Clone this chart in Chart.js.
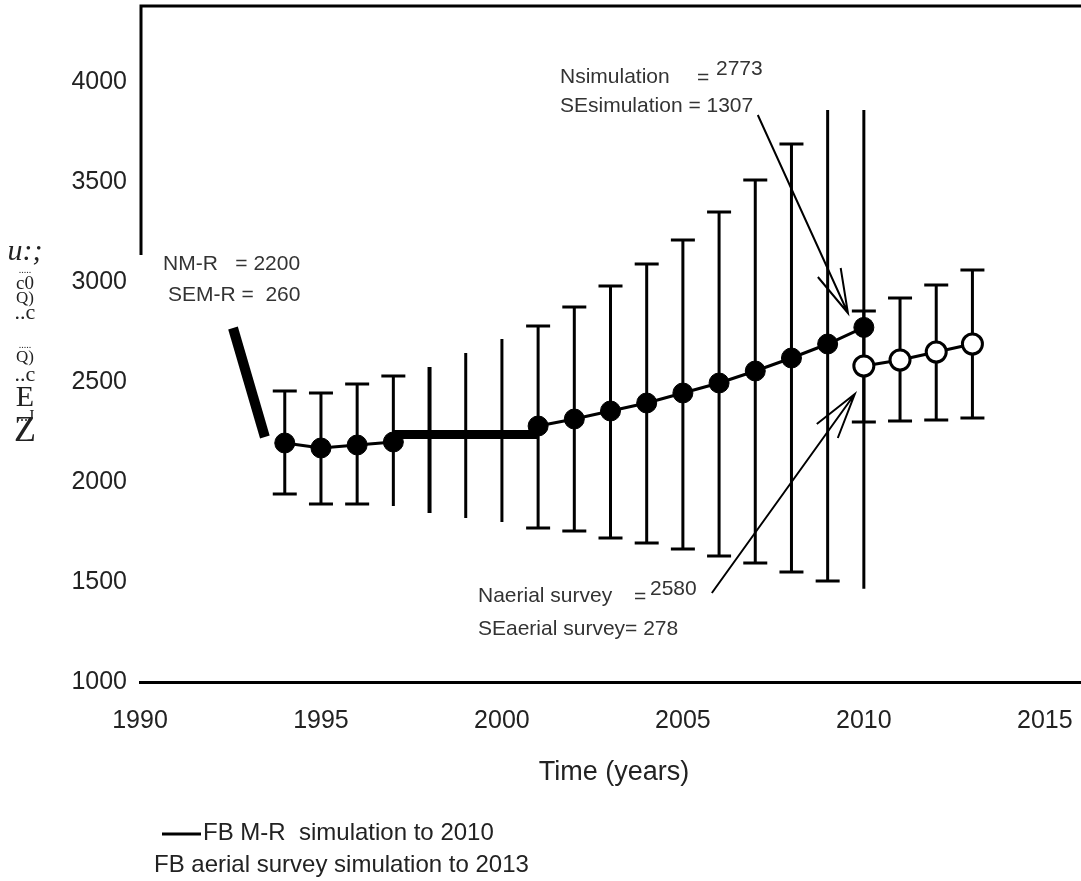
<!DOCTYPE html>
<html>
<head>
<meta charset="utf-8">
<script src="https://cdn.jsdelivr.net/npm/chart.js@4.4.1/dist/chart.umd.min.js"></script>
<style>
  html, body { margin: 0; padding: 0; background: #fff; }
</style>
</head>
<body>
<canvas id="chart" width="1081" height="881"></canvas>
<script>
// M-R simulation (filled circles), 1994-2010
const years = [1994, 1995, 1996, 1997, 1998, 1999, 2000, 2001, 2002, 2003, 2004, 2005, 2006, 2007, 2008, 2009, 2010];
const mrValues = [2195, 2170, 2185, 2200, null, null, null, 2280, 2315, 2355, 2395, 2445, 2495, 2555, 2620, 2690, 2773];
const mrLow = [1940, 1890, 1890, 1880, 1845, 1820, 1800, 1770, 1755, 1720, 1695, 1665, 1630, 1595, 1550, 1505, 1466];
const mrHigh = [2455, 2445, 2490, 2530, 2575, 2645, 2715, 2780, 2875, 2980, 3090, 3210, 3350, 3510, 3690, 3860, 3860];
const mrCapTop = [1, 1, 1, 1, 0, 0, 0, 1, 1, 1, 1, 1, 1, 1, 1, 0, 0];
const mrCapBottom = [1, 1, 1, 0, 0, 0, 0, 1, 1, 1, 1, 1, 1, 1, 1, 1, 0];

// aerial survey simulation (open circles), 2010-2013
const aerialYears = [2010, 2011, 2012, 2013];
const aerialValues = [2580, 2610, 2650, 2690];
const aerialLow = [2300, 2305, 2310, 2320];
const aerialHigh = [2855, 2920, 2985, 3060];

// heavy strokes of the figure
const thickYears = [1997, 2001];
const thickValues = [2238, 2238];
const slashYears = [1992.57, 1993.45];
const slashValues = [2770, 2225];

const xTicks = [1990, 1995, 2000, 2005, 2010, 2015];
const yTicks = [1000, 1500, 2000, 2500, 3000, 3500, 4000];

// arrows: [start, tip, barb1, barb2] as [year, value]
const arrowSim = [[2007.07, 3835], [2009.56, 2845], [2008.73, 3025], [2009.36, 3070]];
const arrowAerial = [[2005.80, 1445], [2009.75, 2440], [2008.70, 2290], [2009.28, 2220]];

const pts = (xs, ys) => xs.map((x, i) => ({ x, y: ys[i] }));

function bar(c, px, lo, hi, capTop, capBottom, w) {
  c.lineWidth = w;
  c.beginPath();
  c.moveTo(px, lo); c.lineTo(px, hi);
  if (capTop) { c.moveTo(px - 12, hi); c.lineTo(px + 12, hi); }
  if (capBottom) { c.moveTo(px - 12, lo); c.lineTo(px + 12, lo); }
  c.stroke();
}

const overlay = {
  id: 'overlay',
  beforeDatasetsDraw(chart) {
    const { ctx: c, scales: { x, y }, chartArea: a } = chart;
    c.save();
    c.strokeStyle = '#000';
    c.lineWidth = 3;
    c.beginPath();
    c.moveTo(a.left + 1, a.top + 249);
    c.lineTo(a.left + 1, a.top);
    c.lineTo(a.right, a.top);
    c.stroke();
    years.forEach((yr, i) => {
      bar(c, x.getPixelForValue(yr), y.getPixelForValue(mrLow[i]), y.getPixelForValue(mrHigh[i]),
        mrCapTop[i], mrCapBottom[i], yr === 1998 ? 4 : 3);
    });
    aerialYears.forEach((yr, i) => {
      bar(c, x.getPixelForValue(yr), y.getPixelForValue(aerialLow[i]), y.getPixelForValue(aerialHigh[i]), 1, 1, 3);
    });
    c.restore();
  },
  afterDraw(chart) {
    const { ctx: c, scales: { x, y } } = chart;
    const P = (p) => [x.getPixelForValue(p[0]), y.getPixelForValue(p[1])];
    c.save();
    c.strokeStyle = '#000';
    c.lineWidth = 2;
    [arrowSim, arrowAerial].forEach(ar => {
      const [s, t, b1, b2] = ar.map(P);
      c.beginPath();
      c.moveTo(s[0], s[1]); c.lineTo(t[0], t[1]);
      c.moveTo(b1[0], b1[1]); c.lineTo(t[0], t[1]); c.lineTo(b2[0], b2[1]);
      c.stroke();
    });

    c.fillStyle = '#333';
    c.textBaseline = 'middle';
    c.textAlign = 'left';
    c.font = '21px "Liberation Sans", Arial, sans-serif';
    c.fillText('NM-R   = 2200', 163, 264);
    c.fillText('SEM-R =  260', 168, 295);
    c.fillText('Nsimulation', 560, 77);
    c.fillText('=', 697, 78);
    c.fillText('2773', 716, 69);
    c.fillText('SEsimulation = 1307', 560, 106);
    c.fillText('Naerial survey', 478, 596);
    c.fillText('=', 634, 597);
    c.fillText('2580', 650, 589);
    c.fillText('SEaerial survey= 278', 478, 629);

    c.fillStyle = '#222';
    c.textAlign = 'center';
    c.font = '27px "Liberation Sans", Arial, sans-serif';
    c.fillText('Time (years)', 614, 773);

    c.textAlign = 'left';
    c.font = '24px "Liberation Sans", Arial, sans-serif';
    c.strokeStyle = '#000';
    c.lineWidth = 3;
    c.beginPath(); c.moveTo(162, 834); c.lineTo(201, 834); c.stroke();
    c.fillText('FB M-R  simulation to 2010', 203, 833);
    c.fillText('FB aerial survey simulation to 2013', 154, 865);

    // scrambled vertical axis title as in the scan
    c.fillStyle = '#222';
    c.textAlign = 'center';
    const glyphs = [
      ['italic 30px "Liberation Serif", serif', 'u:;', 252],
      ['10px "Liberation Serif", serif', '.....', 270],
      ['19px "Liberation Serif", serif', 'c0', 284],
      ['17px "Liberation Serif", serif', 'Q)', 299],
      ['22px "Liberation Serif", serif', '..c', 313],
      ['10px "Liberation Serif", serif', '.....', 345],
      ['17px "Liberation Serif", serif', 'Q)', 358],
      ['22px "Liberation Serif", serif', '..c', 375],
      ['30px "Liberation Serif", serif', 'E', 398],
      ['16px "Liberation Serif", serif', '...J', 417],
      ['36px "Liberation Serif", serif', 'Z', 432]
    ];
    glyphs.forEach(([f, t, ty]) => { c.font = f; c.fillText(t, 25, ty); });
    c.restore();
  }
};

new Chart(document.getElementById('chart').getContext('2d'), {
  type: 'scatter',
  data: {
    datasets: [
      {
        data: pts(slashYears, slashValues),
        showLine: true, borderColor: '#000', borderWidth: 10, pointRadius: 0, borderCapStyle: 'butt'
      },
      {
        data: pts(thickYears, thickValues),
        showLine: true, borderColor: '#000', borderWidth: 9, pointRadius: 0, borderCapStyle: 'butt'
      },
      {
        data: pts(years, mrValues),
        showLine: true, spanGaps: false, borderColor: '#000', borderWidth: 3,
        pointRadius: 10, pointBackgroundColor: '#000', pointBorderColor: '#000', pointBorderWidth: 1
      },
      {
        data: pts(aerialYears, aerialValues),
        showLine: true, borderColor: '#000', borderWidth: 3,
        pointRadius: 10, pointBackgroundColor: '#fff', pointBorderColor: '#000', pointBorderWidth: 3
      }
    ]
  },
  options: {
    responsive: false,
    animation: false,
    layout: { autoPadding: false, padding: { top: 6, right: 0, left: 0, bottom: 0 } },
    plugins: {
      legend: { display: false },
      tooltip: { enabled: false }
    },
    scales: {
      x: {
        type: 'linear',
        min: 1990,
        max: 2016,
        afterBuildTicks: (s) => { s.ticks = xTicks.map(v => ({ value: v })); },
        afterFit: (s) => { s.height = 199; s.paddingLeft = 0; s.paddingRight = 0; },
        grid: { display: false, drawTicks: false },
        border: { display: true, color: '#000', width: 3 },
        ticks: {
          padding: 24,
          color: '#222',
          callback: (v) => String(v),
          font: { family: '"Liberation Sans", Arial, sans-serif', size: 25 }
        }
      },
      y: {
        min: 1000,
        max: 4380,
        afterBuildTicks: (s) => { s.ticks = yTicks.map(v => ({ value: v })); },
        afterFit: (s) => { s.width = 140; s.paddingTop = 0; s.paddingBottom = 0; },
        grid: { display: false, drawTicks: false },
        border: { display: false },
        ticks: {
          padding: 13,
          color: '#222',
          callback: (v) => String(v),
          font: { family: '"Liberation Sans", Arial, sans-serif', size: 25 }
        }
      }
    }
  },
  plugins: [overlay]
});
</script>
</body>
</html>
